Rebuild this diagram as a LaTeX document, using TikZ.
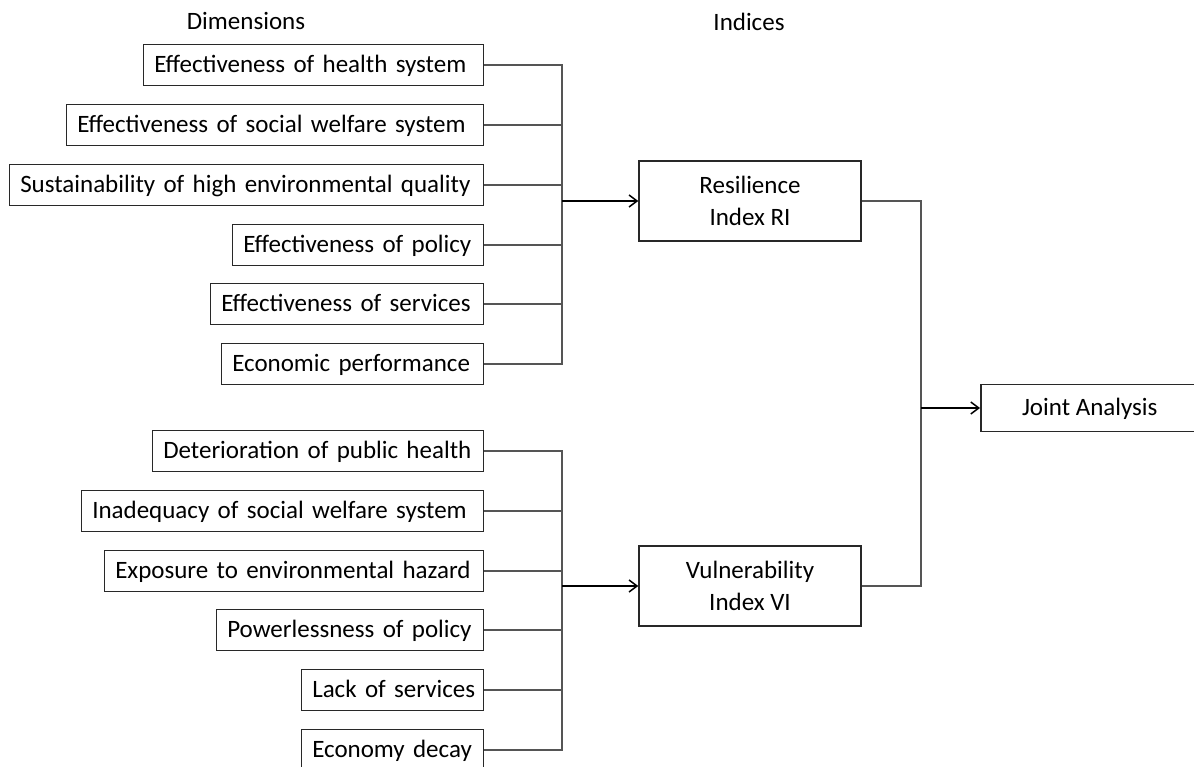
\documentclass[tikz,border=0pt]{standalone}
\usepackage{fontspec}
\setmainfont{Carlito}
\usetikzlibrary{arrows.meta}
\definecolor{boxc}{RGB}{40,40,40}
\definecolor{linec}{RGB}{85,85,85}
\tikzset{
  lab/.style={font=\fontsize{25}{31}\selectfont, inner sep=0pt},
  dimbox/.style={draw=boxc, line width=1.5pt, font=\fontsize{25}{31}\selectfont,
    minimum height=41pt, inner xsep=11pt, inner ysep=0pt, text height=21pt, text depth=6pt,
    align=left, anchor=east},
  idxbox/.style={draw=boxc, line width=1.5pt, font=\fontsize{25}{32}\selectfont,
    minimum width=222pt, minimum height=80pt, align=center, inner sep=0pt},
  jbox/.style={draw=boxc, line width=1.5pt, font=\fontsize{25}{31}\selectfont,
    minimum width=218pt, minimum height=47pt, inner sep=0pt, text height=21pt, text depth=7pt,
    anchor=west},
  conn/.style={draw=linec, line width=1.5pt},
  arr/.style={draw=black, line width=2pt, -{Straight Barb[length=8pt,width=12pt,line width=1.5pt]}},
}
\begin{document}
\begin{tikzpicture}[x=1pt,y=-1pt]
\useasboundingbox (0,0) rectangle (1194,767);
% headers
\node[lab] (hdim) at (246,21) {Dimensions};
\node[lab] (hidx) at (749,22) {Indices};
% resilience dimensions
\node[dimbox, text width=318pt] (t1) at (484,65) {\mbox{Effectiveness of health system}};
\node[dimbox, text width=395pt] (t2) at (484,125) {\mbox{Effectiveness of social welfare system}};
\node[dimbox, text width=452pt] (t3) at (484,185) {\mbox{Sustainability of high environmental quality}};
\node[dimbox, text width=229pt] (t4) at (484,245) {\mbox{Effectiveness of policy}};
\node[dimbox, text width=251pt] (t5) at (484,304) {\mbox{Effectiveness of services}};
\node[dimbox, text width=240pt] (t6) at (484,364) {\mbox{Economic performance}};
% vulnerability dimensions
\node[dimbox, text width=309pt] (b1) at (484,451) {\mbox{Deterioration of public health}};
\node[dimbox, text width=380pt] (b2) at (484,511) {\mbox{Inadequacy of social welfare system}};
\node[dimbox, text width=357pt] (b3) at (484,571) {\mbox{Exposure to environmental hazard}};
\node[dimbox, text width=245pt] (b4) at (484,630) {\mbox{Powerlessness of policy}};
\node[dimbox, text width=160pt] (b5) at (484,690) {\mbox{Lack of services}};
\node[dimbox, text width=160pt] (b6) at (484,750) {\mbox{Economy decay}};
% indices
\node[idxbox] (ri) at (750,201) {Resilience\\Index RI};
\node[idxbox] (vi) at (750,586) {Vulnerability\\Index VI};
\node[jbox] (ja) at (980,408) {Joint Analysis};
% bus coordinates
\coordinate (busl) at (562,0);
\coordinate (busr) at (921,0);
% top bus
\draw[conn] (t1.east) -- (t1.east -| busl) |- (t6.east);
\foreach \n in {t2,t3,t4,t5} \draw[conn] (\n.east) -- (\n.east -| busl);
\draw[arr] (ri.west -| busl) -- (ri.west);
% bottom bus
\draw[conn] (b1.east) -- (b1.east -| busl) |- (b6.east);
\foreach \n in {b2,b3,b4,b5} \draw[conn] (\n.east) -- (\n.east -| busl);
\draw[arr] (vi.west -| busl) -- (vi.west);
% right bus
\draw[conn] (ri.east) -- (ri.east -| busr) |- (vi.east);
\draw[arr] (ja.west -| busr) -- (ja.west);
\end{tikzpicture}
\end{document}
